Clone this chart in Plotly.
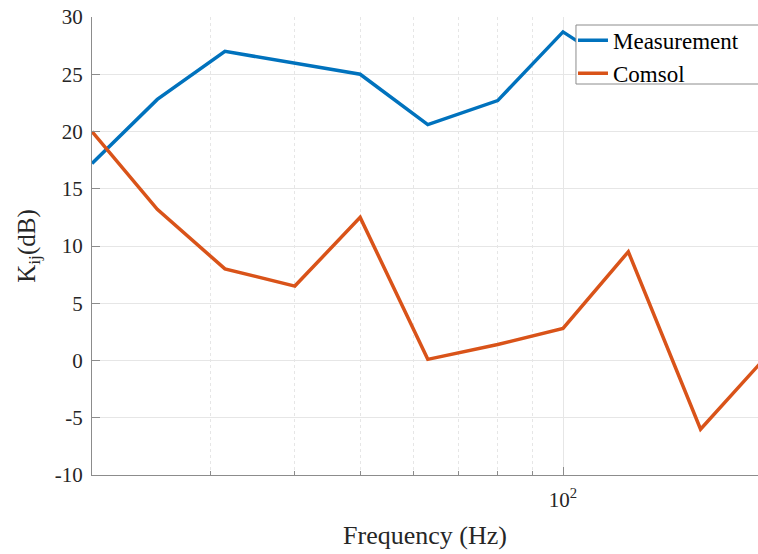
import numpy as np
import plotly.graph_objects as go

# One-third-octave band centre frequencies (Hz)
freq = [20, 25, 31.5, 40, 50, 63, 80, 100, 125, 160, 200]

# Vibration reduction index K_ij (dB)
measurement = [17.2, 22.8, 27.0, 26.0, 25.0, 20.6, 22.7, 28.7, 25.0, 26.0, 26.5]
comsol = [20.0, 13.2, 8.0, 6.5, 12.5, 0.1, 1.4, 2.8, 9.5, -6.0, 0.3]

y_ticks = [-10, -5, 0, 5, 10, 15, 20, 25, 30]
y_tick_text = [str(v) for v in y_ticks]

font_family = "Liberation Serif"
text_color = "#262626"

fig = go.Figure()
fig.add_trace(go.Scatter(x=freq, y=measurement, mode="lines", name="Measurement",
                         line=dict(color="#0072BD", width=3.5)))
fig.add_trace(go.Scatter(x=freq, y=comsol, mode="lines", name="Comsol",
                         line=dict(color="#D95319", width=3.5)))

# Opaque legend box reaching the right edge of the figure
fig.add_shape(type="rect", xref="paper", yref="paper",
              x0=0.7267, x1=1.03, y0=0.8537, y1=0.9825,
              fillcolor="white", line=dict(color="#8c8c8c", width=1), layer="above")

fig.update_layout(
    width=758, height=554,
    margin=dict(l=92, r=0, t=17, b=79),
    paper_bgcolor="white", plot_bgcolor="white",
    font=dict(family=font_family, size=20, color=text_color),
    showlegend=True,
    legend=dict(x=0.7222, y=0.996, xanchor="left", yanchor="top",
                bgcolor="rgba(0,0,0,0)", borderwidth=0,
                font=dict(family=font_family, size=23, color="black"),
                tracegroupgap=0, itemwidth=30),
)

fig.update_xaxes(
    type="log",
    range=[np.log10(20), np.log10(194.7)],
    tickvals=[100], ticktext=["10<sup>2</sup>"],
    ticks="inside", ticklen=8, tickcolor="#8c8c8c",
    showline=True, linecolor="#8c8c8c", linewidth=1,
    showgrid=True, gridcolor="#e6e6e6", gridwidth=1,
    minor=dict(tickvals=[30, 40, 50, 60, 70, 80, 90, 200],
               ticks="inside", ticklen=4, tickcolor="#8c8c8c",
               showgrid=True, gridcolor="#e6e6e6", griddash="dot", gridwidth=1),
    zeroline=False,
    ticklabelstandoff=6,
    title=dict(text="Frequency (Hz)", font=dict(family=font_family, size=26, color=text_color),
               standoff=14),
    tickfont=dict(family=font_family, size=21, color=text_color),
)

fig.update_yaxes(
    range=[-10, 30],
    tickvals=y_ticks, ticktext=y_tick_text,
    ticks="inside", ticklen=8, tickcolor="#8c8c8c",
    showline=True, linecolor="#8c8c8c", linewidth=1,
    showgrid=True, gridcolor="#e6e6e6", gridwidth=1,
    zeroline=False,
    ticklabelstandoff=4,
    title=dict(text="K<sub>ij</sub>(dB)", font=dict(family=font_family, size=25, color=text_color),
               standoff=12),
    tickfont=dict(family=font_family, size=21, color=text_color),
)

fig.write_html("out.html")
